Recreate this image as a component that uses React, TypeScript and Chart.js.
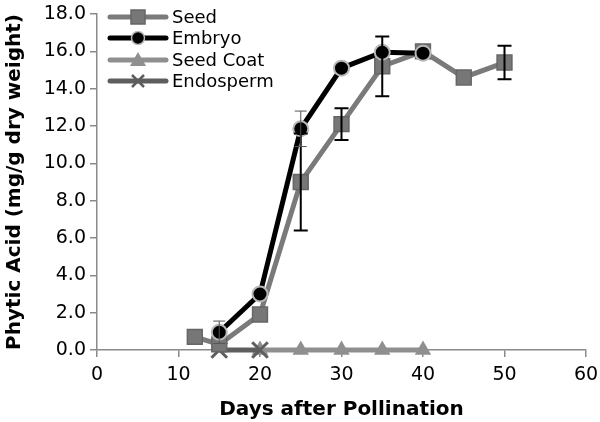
import React, { useEffect, useRef } from "react";
import { Chart, registerables } from "chart.js";

Chart.register(...registerables);

const seedX = [12, 15, 20, 25, 30, 35, 40, 45, 50];
const seedY = [0.7, 0.3, 1.9, 9.0, 12.1, 15.2, 16.0, 14.6, 15.4];
const seedErr = [0, 0, 0, 2.6, 0.85, 1.6, 0, 0, 0.9];

const embryoX = [15, 20, 25, 30, 35, 40];
const embryoY = [0.95, 3.0, 11.85, 15.1, 15.95, 15.9];
const embryoErr = [0.6, 0, 0.95, 0, 0, 0];

const coatX = [20, 25, 30, 35, 40];
const coatY = [0, 0, 0, 0, 0];

const endoX = [15, 20];
const endoY = [0, 0];

const xTicks = [0, 10, 20, 30, 40, 50, 60];
const yTicks = [0, 2, 4, 6, 8, 10, 12, 14, 16, 18];

const FONT = "'DejaVu Sans', 'Open Sans', sans-serif";

const seedColor = "#7a7a7a";
const embryoColor = "#000000";
const coatColor = "#8f8f8f";
const endoColor = "#5e5e5e";

const toPts = (xs: number[], ys: number[]) => xs.map((x, i) => ({ x, y: ys[i] }));

const errorBarPlugin = {
  id: "errbars",
  afterDatasetsDraw(chart: any) {
    const ctx = chart.ctx;
    const xs = chart.scales.x;
    const ys = chart.scales.y;
    const draw = (xv: number[], yv: number[], ev: number[], color: string, lw: number, cap: number) => {
      ctx.save();
      ctx.strokeStyle = color;
      ctx.lineWidth = lw;
      xv.forEach((x, i) => {
        const e = ev[i];
        if (!e) return;
        const px = xs.getPixelForValue(x);
        const top = ys.getPixelForValue(yv[i] + e);
        const bot = ys.getPixelForValue(yv[i] - e);
        ctx.beginPath();
        ctx.moveTo(px, top);
        ctx.lineTo(px, bot);
        ctx.moveTo(px - cap, top);
        ctx.lineTo(px + cap, top);
        ctx.moveTo(px - cap, bot);
        ctx.lineTo(px + cap, bot);
        ctx.stroke();
      });
      ctx.restore();
    };
    draw(seedX, seedY, seedErr, "#000000", 2, 7);
    draw(embryoX, embryoY, embryoErr, "#555555", 1, 6);
  },
};

const legendItems = [
  { label: "Seed", color: seedColor, style: "rect", fill: "#777777", border: "#666666" },
  { label: "Embryo", color: embryoColor, style: "circle", fill: "#000000", border: "#b8b8b8" },
  { label: "Seed Coat", color: coatColor, style: "triangle", fill: coatColor, border: coatColor },
  { label: "Endosperm", color: endoColor, style: "cross", fill: endoColor, border: endoColor },
];

const legendPlugin = {
  id: "customLegend",
  afterDraw(chart: any) {
    const ctx = chart.ctx;
    const x0 = 110;
    const x1 = 166;
    const mx = 138;
    const rows = [17, 38, 60, 81];
    ctx.save();
    legendItems.forEach((it, i) => {
      const y = rows[i];
      ctx.strokeStyle = it.color;
      ctx.lineWidth = 5;
      ctx.lineCap = "round";
      ctx.beginPath();
      ctx.moveTo(x0, y);
      ctx.lineTo(x1, y);
      ctx.stroke();
      ctx.lineCap = "butt";
      ctx.fillStyle = it.fill;
      ctx.strokeStyle = it.border;
      ctx.lineWidth = 1.5;
      if (it.style === "rect") {
        ctx.fillRect(mx - 7, y - 7, 14, 14);
        ctx.strokeRect(mx - 7, y - 7, 14, 14);
      } else if (it.style === "circle") {
        ctx.beginPath();
        ctx.arc(mx, y, 6.5, 0, Math.PI * 2);
        ctx.fill();
        ctx.stroke();
      } else if (it.style === "triangle") {
        ctx.beginPath();
        ctx.moveTo(mx, y - 8);
        ctx.lineTo(mx + 8, y + 6);
        ctx.lineTo(mx - 8, y + 6);
        ctx.closePath();
        ctx.fill();
      } else {
        ctx.lineWidth = 2.5;
        ctx.beginPath();
        ctx.moveTo(mx - 6, y - 6);
        ctx.lineTo(mx + 6, y + 6);
        ctx.moveTo(mx + 6, y - 6);
        ctx.lineTo(mx - 6, y + 6);
        ctx.stroke();
      }
      ctx.fillStyle = "#000000";
      ctx.font = `18px ${FONT}`;
      ctx.textBaseline = "middle";
      ctx.textAlign = "left";
      ctx.fillText(it.label, 172, y + 1);
    });
    ctx.restore();
  },
};

export default function App() {
  const ref = useRef<HTMLCanvasElement>(null);
  useEffect(() => {
    if (!ref.current) return;
    const chart = new Chart(ref.current, {
      type: "scatter",
      data: {
        datasets: [
          {
            label: "Endosperm",
            data: toPts(endoX, endoY),
            showLine: true,
            clip: false,
            borderColor: endoColor,
            borderWidth: 5,
            pointStyle: "crossRot",
            pointRadius: 11,
            pointBorderWidth: 3,
            pointBorderColor: endoColor,
            pointBackgroundColor: endoColor,
            order: 3,
          },
          {
            label: "Seed Coat",
            data: toPts(coatX, coatY),
            showLine: true,
            clip: false,
            borderColor: coatColor,
            borderWidth: 5,
            pointStyle: "triangle",
            pointRadius: 9.5,
            pointBorderWidth: 0,
            pointBackgroundColor: coatColor,
            order: 4,
          },
          {
            label: "Seed",
            data: toPts(seedX, seedY),
            showLine: true,
            clip: false,
            borderColor: seedColor,
            borderWidth: 5,
            pointStyle: "rect",
            pointRadius: 10.5,
            pointBorderWidth: 1.5,
            pointBorderColor: "#666666",
            pointBackgroundColor: "#777777",
            order: 2,
          },
          {
            label: "Embryo",
            data: toPts(embryoX, embryoY),
            showLine: true,
            clip: false,
            borderColor: embryoColor,
            borderWidth: 5,
            pointStyle: "circle",
            pointRadius: 7.5,
            pointBorderWidth: 2,
            pointBorderColor: "#b8b8b8",
            pointBackgroundColor: "#000000",
            order: 1,
          },
        ],
      },
      options: {
        animation: false,
        responsive: false,
        layout: { padding: { top: 13, right: 13, left: 0, bottom: 0 } },
        plugins: {
          legend: { display: false },
          tooltip: { enabled: false },
        },
        scales: {
          x: {
            type: "linear",
            min: 0,
            max: 60,
            afterBuildTicks: (s: any) => {
              s.ticks = xTicks.map((v) => ({ value: v }));
            },
            afterFit: (s: any) => {
              s.height = 72;
              s.paddingLeft = 0;
              s.paddingRight = 0;
            },
            ticks: { color: "#000", font: { family: FONT, size: 19 }, padding: 7 },
            grid: { drawOnChartArea: false, color: "#8a8a8a", tickLength: 7, lineWidth: 1.5 },
            border: { color: "#8a8a8a", width: 1.5 },
            title: {
              display: true,
              text: "Days after Pollination",
              color: "#000",
              font: { family: FONT, size: 20, weight: "bold" },
              padding: { top: 1, bottom: 0 },
            },
          },
          y: {
            type: "linear",
            min: 0,
            max: 18,
            afterBuildTicks: (s: any) => {
              s.ticks = yTicks.map((v) => ({ value: v }));
            },
            afterFit: (s: any) => {
              s.width = 97;
              s.paddingTop = 0;
              s.paddingBottom = 0;
            },
            ticks: {
              color: "#000",
              font: { family: FONT, size: 19 },
              padding: 4,
              callback: (v: any) => Number(v).toFixed(1),
            },
            grid: { drawOnChartArea: false, color: "#8a8a8a", tickLength: 7, lineWidth: 1.5 },
            border: { color: "#8a8a8a", width: 1.5 },
            title: {
              display: true,
              text: "Phytic Acid (mg/g dry weight)",
              color: "#000",
              font: { family: FONT, size: 20, weight: "bold" },
              padding: { top: 3, bottom: 4 },
            },
          },
        },
      },
      plugins: [errorBarPlugin, legendPlugin],
    } as any);
    return () => chart.destroy();
  }, []);
  return (
    <div style={{ position: "fixed", left: 0, top: 0, width: 600, height: 422, background: "#fff" }}>
      <canvas ref={ref} width={600} height={422} style={{ width: 600, height: 422 }} />
    </div>
  );
}
